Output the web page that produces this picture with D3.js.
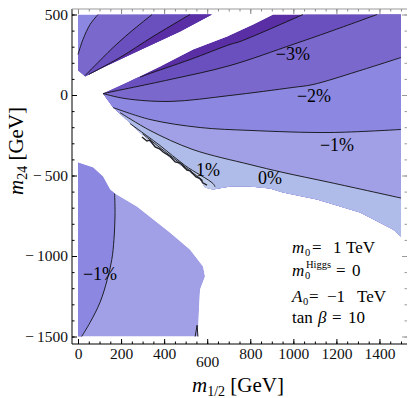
<!DOCTYPE html>
<html>
<head>
<meta charset="utf-8">
<script src="https://cdn.jsdelivr.net/npm/d3@7"></script>
<style>
body { margin: 0; background: #fff; }
text { font-family: "Liberation Serif", "Times New Roman", serif; }
</style>
</head>
<body>
<svg width="409" height="398"></svg>
<script>
// contour data, in GeV (m_1/2, m_24)
var wedgeTop = [[116,9],[228,78],[381,177],[534,283],[692,363],[813,438],[906,500]];
var wedgeBottom = [[116,9],[163,-78],[209,-134],[288,-233],[348,-307],[460,-419],[567,-525],[590,-575],
  [627,-587],[706,-568],[799,-568],[892,-581],[952,-606],[1110,-649],[1310,-730],[1463,-835],[1500,-879]];
var m4 = [[288,110],[320,127],[520,220],[706,314],[752,332],[1045,500]];
var m3 = [[116,9],[427,96],[706,183],[998,314],[1170,394],[1389,500]];
var m2 = [[116,9],[218,-22],[427,-40],[706,-3],[998,47],[1091,65],[1296,146],[1500,233]];
var m1 = [[163,-78],[334,-152],[567,-202],[799,-220],[1170,-233],[1500,-214]];
var z0 = [[195,-109],[334,-220],[534,-339],[799,-432],[952,-481],[1170,-543],[1500,-640]];
var p1 = [[241,-177],[381,-314],[497,-438],[627,-550],[636,-570]];
var p2 = [[300,-241],[400,-347],[500,-450],[580,-531]];
var scribble = [[297,-261],[320,-286],[334,-280],[358,-323],[381,-336],[395,-354],[427,-380],[451,-416],
  [474,-422],[506,-466],[520,-470],[548,-509],[567,-520],[581,-547],[599,-560]];

var ulOutline = [[0,500],[622,500],[474,394],[274,270],[116,171],[33,115],[0,152]];
var ulA = [[0,252],[23,345],[56,438],[93,500]];
var ulB = [[33,121],[116,233],[163,295],[241,388],[344,500]];
var ulC = [[50,128],[195,233],[348,363],[520,500]];

var llOutline = [[0,-419],[70,-450],[116,-506],[149,-587],[172,-612],[274,-693],[427,-854],[520,-960],
  [581,-1065],[590,-1127],[567,-1208],[562,-1332],[557,-1500],[0,-1500]];
var llLine = [[170,-612],[172,-730],[167,-898],[157,-1022],[136,-1146],[102,-1289],[56,-1413],[17,-1500]];
var spike = [[544,-1500],[553,-1430],[557,-1500]];

var contourLabels = [
  {text: "\u22123%", at: [998, 258]},
  {text: "\u22122%", at: [1096, -6]},
  {text: "\u22121%", at: [1203, -309]},
  {text: "0%", at: [892, -514]},
  {text: "1%", at: [604, -461]},
  {text: "\u22121%", at: [102, -1108]}
];

var xMajor = [0,200,400,600,800,1000,1200,1400];
var xMinor = d3.range(0, 1501, 50);
var yMajor = [500,0,-500,-1000,-1500];
var yMinor = d3.range(-1500, 501, 100);

var levelColors = ["#5a2ea5","#6a4fbf","#7b68cd","#8c88e2","#a1a0e6","#afbbe8","#c0ccec"];

var svg = d3.select("svg");
var x = d3.scaleLinear().domain([0, 1500]).range([78, 401]);
var y = d3.scaleLinear().domain([500, -1500]).range([14.5, 336.5]);

var smooth = d3.line().x(d => x(d[0])).y(d => y(d[1])).curve(d3.curveCatmullRom);
var straight = d3.line().x(d => x(d[0])).y(d => y(d[1]));

function shape(pts, tail) {
  return smooth(pts) + tail.map(p => "L" + x(p[0]) + "," + y(p[1])).join("") + "Z";
}
function below(l) {
  var s = l[0], e = l[l.length - 1];
  var t = e[1] >= 500 ? [[1600,600],[1600,-1600]] : [[e[0],-1600]];
  return shape(l, t.concat([[-100,-1600],[-100,s[1]]]));
}
function rightOf(l) {
  var s = l[0], e = l[l.length - 1];
  return shape(l, [[e[0],600],[800,600],[800,0],[s[0],0]]);
}
function leftOf(l) {
  var s = l[0], e = l[l.length - 1];
  return shape(l, [[e[0],-1600],[-100,-1600],[-100,-300],[s[0],-300]]);
}

function region(id, outline, base, layers) {
  svg.append("clipPath").attr("id", id)
    .append("path").attr("d", straight(outline) + "Z");
  var g = svg.append("g").attr("clip-path", "url(#" + id + ")");
  g.append("path").attr("d", straight(outline) + "Z").attr("fill", base);
  layers.forEach(function(l) {
    g.append("path").attr("d", l[0]).attr("fill", l[1]);
  });
}

var wedgeOutline = wedgeTop.concat([[1500,500]], wedgeBottom.slice().reverse());
region("wedge", wedgeOutline, levelColors[0], [
  [below(m4), levelColors[1]],
  [below(m3), levelColors[2]],
  [below(m2), levelColors[3]],
  [below(m1), levelColors[4]],
  [below(z0), levelColors[5]],
  [below(p1), levelColors[6]]
]);
region("ul", ulOutline, levelColors[3], [
  [rightOf(ulA), levelColors[2]],
  [rightOf(ulB), levelColors[1]],
  [rightOf(ulC), levelColors[0]]
]);
region("ll", llOutline, levelColors[4], [
  [leftOf(llLine), levelColors[3]]
]);

// contour lines
var lines = svg.append("g").attr("fill", "none").attr("stroke", "#111").attr("stroke-width", 0.9);
[m4, m3, m2, m1, z0, p1, p2, ulA, ulB, ulC, llLine].forEach(function(l) {
  lines.append("path").attr("d", smooth(l));
});
lines.append("path").attr("d", straight(spike));
lines.append("path").attr("d", straight(scribble)).attr("stroke", "#222").attr("stroke-width", 1.4);

svg.append("g").selectAll("text").data(contourLabels).enter().append("text")
  .attr("x", d => x(d.at[0])).attr("y", d => y(d.at[1]))
  .attr("dy", "0.35em").attr("text-anchor", "middle")
  .attr("font-size", 18).text(d => d.text);

// frame and ticks
var tickFmt = d => d < 0 ? "\u2212\u2009" + (-d) : String(d);
function ticks(axis, tr, vals, size, color, labels) {
  var g = svg.append("g").attr("transform", tr)
    .call(axis.tickValues(vals).tickSizeInner(-size).tickSizeOuter(0)
      .tickPadding(labels ? 4 : 0).tickFormat(labels ? tickFmt : ""));
  g.select(".domain").remove();
  g.selectAll("line").attr("stroke", color);
  g.attr("font-family", "Liberation Serif, serif").attr("font-size", 15.5);
  g.selectAll("text").attr("fill", "#111");
  return g;
}
var bx = ticks(d3.axisBottom(x), "translate(0,344)", xMajor, 5, "#000", true);
ticks(d3.axisBottom(x), "translate(0,344)", xMinor, 2.5, "#000", false);
bx.selectAll(".tick").filter(d => d === 600).select("text").attr("dy", "1.2em");
ticks(d3.axisLeft(y), "translate(72,0)", yMajor, 5, "#000", true);
ticks(d3.axisLeft(y), "translate(72,0)", yMinor, 2.5, "#000", false);
ticks(d3.axisTop(x), "translate(0,9)", xMajor, 5, "#888", false);
ticks(d3.axisTop(x), "translate(0,9)", xMinor, 2.5, "#888", false);
ticks(d3.axisRight(y), "translate(407,0)", yMajor, 5, "#999", false);
ticks(d3.axisRight(y), "translate(407,0)", yMinor, 2.5, "#999", false);

svg.append("line").attr("x1", 72).attr("x2", 72).attr("y1", 9).attr("y2", 344).attr("stroke", "#000");
svg.append("line").attr("x1", 72).attr("x2", 407).attr("y1", 344).attr("y2", 344).attr("stroke", "#000");
svg.append("line").attr("x1", 72).attr("x2", 407).attr("y1", 9).attr("y2", 9).attr("stroke", "#999");

// axis titles
var xt = svg.append("text").attr("x", 238).attr("y", 392).attr("text-anchor", "middle").attr("font-size", 21);
xt.append("tspan").attr("font-style", "italic").text("m");
xt.append("tspan").attr("font-size", 14).attr("dy", 4).text("1/2");
xt.append("tspan").attr("dy", -4).text(" [GeV]");

var yt = svg.append("text").attr("transform", "translate(23,151) rotate(-90)")
  .attr("text-anchor", "middle").attr("font-size", 21);
yt.append("tspan").attr("font-style", "italic").text("m");
yt.append("tspan").attr("font-size", 14).attr("dy", 4).text("24");
yt.append("tspan").attr("dy", -4).text(" [GeV]");

// parameter block
var p = svg.append("g").attr("font-size", 17);
var r1 = p.append("text").attr("y", 253);
r1.append("tspan").attr("x", 292).attr("font-style", "italic").text("m");
r1.append("tspan").attr("x", 305).attr("dy", 2.5).attr("font-size", 10.5).text("0");
r1.append("tspan").attr("x", 312).attr("dy", -2.5).text("=");
r1.append("tspan").attr("x", 333).text("1");
r1.append("tspan").attr("x", 346).text("TeV");

var r2 = p.append("text").attr("y", 276);
r2.append("tspan").attr("x", 292).attr("font-style", "italic").text("m");
r2.append("tspan").attr("x", 306).attr("dy", -8).attr("font-size", 10.5).text("Higgs");
r2.append("tspan").attr("x", 305).attr("dy", 11).attr("font-size", 10.5).text("0");
r2.append("tspan").attr("x", 336).attr("dy", -3).text("=");
r2.append("tspan").attr("x", 352).text("0");

var r3 = p.append("text").attr("y", 302);
r3.append("tspan").attr("x", 292).attr("font-style", "italic").text("A");
r3.append("tspan").attr("x", 303).attr("dy", 3).attr("font-size", 10.5).text("0");
r3.append("tspan").attr("x", 309).attr("dy", -3).text("=");
r3.append("tspan").attr("x", 327).text("\u22121");
r3.append("tspan").attr("x", 357).text("TeV");

var r4 = p.append("text").attr("y", 323);
r4.append("tspan").attr("x", 292).text("tan");
r4.append("tspan").attr("x", 318).attr("font-style", "italic").text("\u03b2");
r4.append("tspan").attr("x", 332).text("=");
r4.append("tspan").attr("x", 348).text("10");
</script>
</body>
</html>
